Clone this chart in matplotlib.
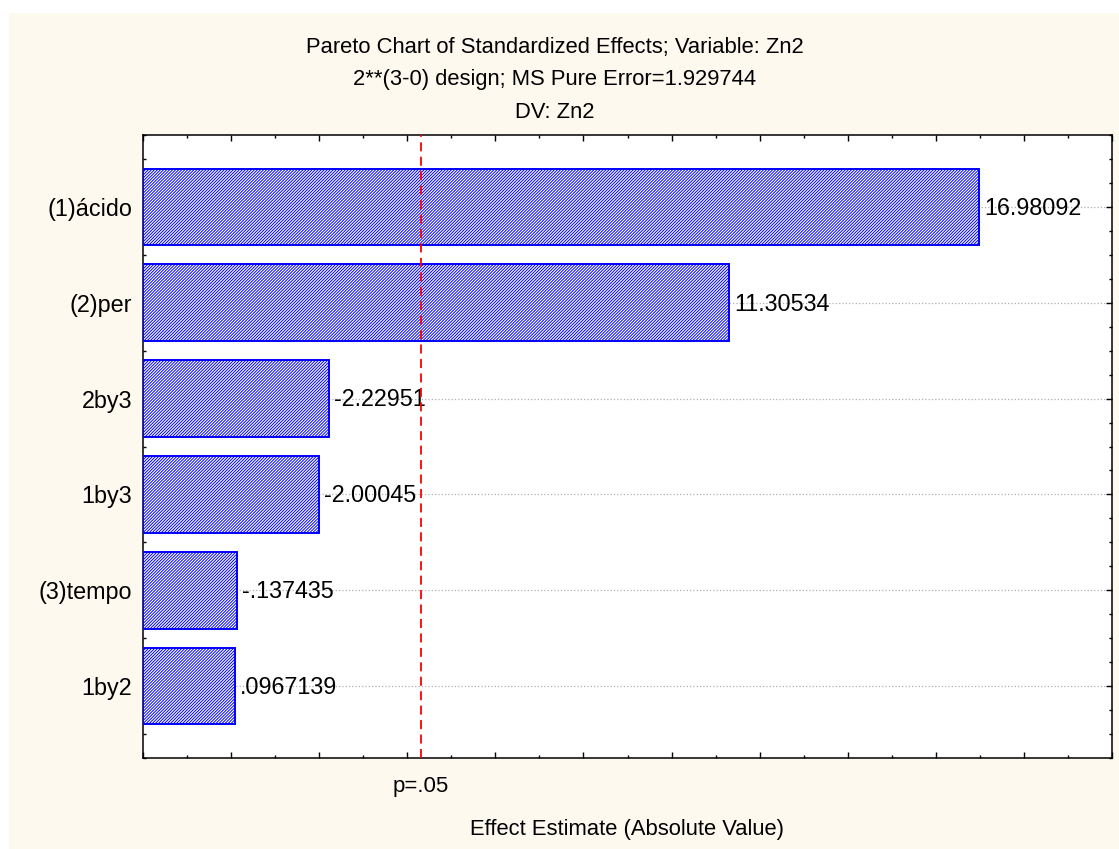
import matplotlib.pyplot as plt
from matplotlib.patches import Rectangle
from matplotlib.ticker import MultipleLocator, NullFormatter
import numpy as np

# dati del grafico di Pareto
effetti = ['(1)ácido', '(2)per', '2by3', '1by3', '(3)tempo', '1by2']
valori = [16.98092, 11.30534, -2.22951, -2.00045, -0.137435, 0.0967139]
etichette = ['16.98092', '11.30534', '-2.22951', '-2.00045', '-.137435', '.0967139']
t_crit = 4.303  # p=.05

plt.rcParams['font.family'] = ['Liberation Sans', 'DejaVu Sans']
plt.rcParams['font.size'] = 16.8
plt.rcParams['hatch.color'] = '#0000ff'
plt.rcParams['hatch.linewidth'] = 0.7

fig = plt.figure(figsize=(11.19, 8.49), dpi=100, facecolor='white')
# sfondo crema
fig.patches.append(Rectangle((9 / 1119, 0), 1, 1 - 13 / 849, transform=fig.transFigure,
                             facecolor='#fdf9ef', edgecolor='none', zorder=-10))

ax = fig.add_axes([143 / 1119, 1 - 758 / 849, (1112 - 143) / 1119, (758 - 135) / 849])
ax.set_facecolor('white')

xmin, xmax = -2, 20
y = np.arange(len(effetti))
ampiezze = np.abs(valori)

ax.barh(y, ampiezze - xmin, left=xmin, height=0.8, facecolor='white',
        edgecolor='#0000ff', linewidth=1.4, hatch='/' * 11, zorder=3)

for yi, a, lab in zip(y, ampiezze, etichette):
    ax.annotate(lab, (a, yi), xytext=(3.5, -1), textcoords='offset points',
                ha='left', va='center', zorder=4)

ax.axvline(t_crit, color='red', linestyle=(0, (5, 3)), linewidth=1.3, zorder=5)
ax.text(t_crit, -0.045, 'p=.05', transform=ax.get_xaxis_transform(),
        ha='center', va='center', fontsize=16)

ax.set_xlim(xmin, xmax)
ax.set_ylim(len(effetti) - 0.25, -0.75)
ax.set_yticks(y)
ax.set_yticklabels(effetti)
ax.yaxis.set_minor_locator(MultipleLocator(0.25))
ax.xaxis.set_major_locator(MultipleLocator(2))
ax.xaxis.set_minor_locator(MultipleLocator(1))
ax.xaxis.set_major_formatter(NullFormatter())

ax.tick_params(which='both', direction='in', top=True, right=True, width=1, color='black')
ax.tick_params(which='major', length=4.5, pad=8)
ax.tick_params(which='minor', length=2.2)
ax.grid(True, axis='y', which='major', color='#b0b0b0', linestyle=':', linewidth=0.9, zorder=0)
for s in ax.spines.values():
    s.set_linewidth(1.1)

# titolo e asse
fs = 15.8
fig.text(555 / 1119, 1 - 47 / 849, 'Pareto Chart of Standardized Effects; Variable: Zn2', ha='center', va='center', fontsize=fs)
fig.text(555 / 1119, 1 - 80 / 849, '2**(3-0) design; MS Pure Error=1.929744', ha='center', va='center', fontsize=fs)
fig.text(555 / 1119, 1 - 112 / 849, 'DV: Zn2', ha='center', va='center', fontsize=fs)
fig.text(627 / 1119, 1 - 829 / 849, 'Effect Estimate (Absolute Value)', ha='center', va='center', fontsize=fs)

fig.savefig('out.png', dpi=100, facecolor=fig.get_facecolor())
